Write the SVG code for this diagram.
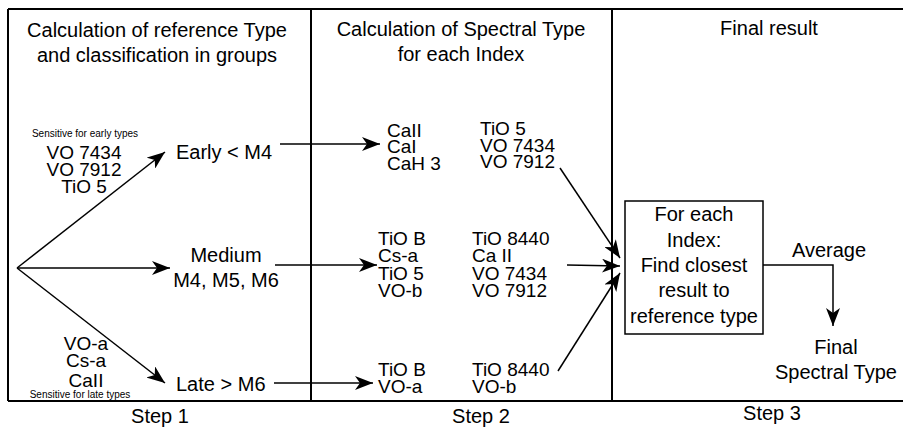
<svg xmlns="http://www.w3.org/2000/svg" width="903" height="430" viewBox="0 0 903 430">
<defs>
<marker id="ah" markerUnits="userSpaceOnUse" markerWidth="20" markerHeight="14" refX="18" refY="7" orient="auto">
<path d="M0,0 L18,7 L0,14 L5,7 z" fill="#000"/>
</marker>
<style>
text{font-family:"Liberation Sans",Arial,sans-serif;fill:#000}
.t{font-size:20px}
.i{font-size:19px}
.c{text-anchor:middle}
.s{font-size:10px;text-anchor:middle}
.frame{stroke:#000;stroke-width:2;fill:none}
.conn line,.conn polyline{stroke:#000;stroke-width:1.5;fill:none}
.arr{marker-end:url(#ah)}
</style>
</defs>
<rect width="903" height="430" fill="#fff"/>
<g id="frame" class="frame">
<line x1="8" y1="9" x2="903" y2="9"/>
<line x1="8" y1="401" x2="903" y2="401"/>
<line x1="8" y1="9" x2="8" y2="401"/>
<line x1="311" y1="9" x2="311" y2="401"/>
<line x1="612" y1="9" x2="612" y2="401"/>
</g>
<g id="titles">
<text class="t c" x="157" y="37">Calculation of reference Type</text>
<text class="t c" x="157" y="62">and classification in groups</text>
<text class="t c" x="461" y="36">Calculation of Spectral Type</text>
<text class="t c" x="461" y="61">for each Index</text>
<text class="t c" x="769" y="35">Final result</text>
<text class="t c" x="160" y="423">Step 1</text>
<text class="t c" x="481" y="423">Step 2</text>
<text class="t c" x="772" y="420">Step 3</text>
</g>
<g id="early-indices">
<text class="s" x="85" y="137">Sensitive for early types</text>
<text class="i c"><tspan x="84" y="159">VO 7434</tspan><tspan x="84" y="176">VO 7912</tspan><tspan x="84" y="193">TiO 5</tspan></text>
</g>
<g id="late-indices">
<text class="i c"><tspan x="86" y="350">VO-a</tspan><tspan x="86" y="367">Cs-a</tspan><tspan x="86" y="387">CaII</tspan></text>
<text class="s" x="80" y="398">Sensitive for late types</text>
</g>
<g id="early"><text class="t" x="176" y="159">Early &lt; M4</text></g>
<g id="medium">
<text class="t c" x="226" y="262">Medium</text>
<text class="t c" x="226" y="287">M4, M5, M6</text>
</g>
<g id="late"><text class="t" x="176" y="391">Late &gt; M6</text></g>
<g id="early-set">
<text class="i"><tspan x="387" y="137">CaII</tspan><tspan x="387" y="153">CaI</tspan><tspan x="387" y="170">CaH 3</tspan></text>
<text class="i"><tspan x="480" y="135">TiO 5</tspan><tspan x="480" y="152">VO 7434</tspan><tspan x="480" y="168">VO 7912</tspan></text>
</g>
<g id="medium-set">
<text class="i"><tspan x="378" y="245">TiO B</tspan><tspan x="378" y="262">Cs-a</tspan><tspan x="378" y="280">TiO 5</tspan><tspan x="378" y="297">VO-b</tspan></text>
<text class="i"><tspan x="472" y="245">TiO 8440</tspan><tspan x="472" y="262">Ca II</tspan><tspan x="472" y="280">VO 7434</tspan><tspan x="472" y="297">VO 7912</tspan></text>
</g>
<g id="late-set">
<text class="i"><tspan x="378" y="376">TiO B</tspan><tspan x="378" y="393">VO-a</tspan></text>
<text class="i"><tspan x="472" y="376">TiO 8440</tspan><tspan x="472" y="393">VO-b</tspan></text>
</g>
<g id="closest">
<rect x="625" y="201" width="138" height="133" fill="none" stroke="#000" stroke-width="1.5"/>
<text class="t c" x="694" y="221">For each</text>
<text class="t c" x="694" y="247">Index:</text>
<text class="t c" x="694" y="272">Find closest</text>
<text class="t c" x="694" y="297">result to</text>
<text class="t c" x="694" y="323">reference type</text>
</g>
<g id="average-label"><text class="t c" x="829" y="257">Average</text></g>
<g id="final">
<text class="t c" x="836" y="354">Final</text>
<text class="t c" x="836" y="379">Spectral Type</text>
</g>
<g id="connectors" class="conn">
<line class="arr" x1="17" y1="268" x2="165" y2="152"/>
<line class="arr" x1="17" y1="268" x2="170" y2="268"/>
<line class="arr" x1="17" y1="268" x2="165" y2="383"/>
<line class="arr" x1="280" y1="144" x2="380" y2="144"/>
<line class="arr" x1="275" y1="265" x2="377" y2="265"/>
<line class="arr" x1="274" y1="383" x2="373" y2="383"/>
<line class="arr" x1="560" y1="168" x2="620" y2="258"/>
<line class="arr" x1="567" y1="265" x2="620" y2="266"/>
<line class="arr" x1="558" y1="371" x2="620" y2="273"/>
<polyline class="arr" points="763,265 833,265 833,326"/>
</g>
</svg>
